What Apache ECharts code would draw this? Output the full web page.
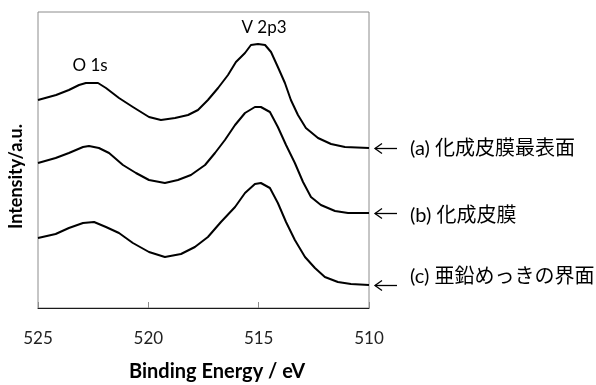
<!DOCTYPE html>
<html><head><meta charset="utf-8">
<script src="https://cdn.jsdelivr.net/npm/echarts@6/dist/echarts.min.js"></script>
<style>html,body{margin:0;padding:0;background:#fff}#c{width:596px;height:385px}</style>
</head><body><div id="c"></div>
<script>
// Binding energies (eV) and intensities (a.u.)
const energyA = [525.0,524.18,523.6,523.14,522.83,522.28,521.92,521.33,520.7,519.97,519.43,518.79,518.2,517.75,517.3,516.84,516.39,516.03,515.62,515.35,515.03,514.71,514.44,514.13,513.81,513.54,513.22,512.86,512.31,511.72,511.09,510.0];
const intensityA = [208,213,218,223,225,225,220,210,201,191,188,190,193,198,208,220,233,246,255,263,264,263,256,241,225,208,193,180,170,164,161,160];
const energyB = [525.0,524.2,523.6,522.96,522.69,522.24,521.78,521.15,520.56,519.97,519.25,518.66,518.07,517.43,516.98,516.53,516.07,515.62,515.17,514.9,514.49,514.13,513.76,513.36,512.99,512.63,512.18,511.54,510.95,510.0];
const intensityB = [145,150,155,161,162,160,155,143,135,128,125,128,133,143,155,168,183,195,201,201,196,181,163,145,126,111,103,97,95,95];
const energyC = [525.0,524.2,523.6,522.96,522.46,521.92,521.33,520.7,519.97,519.25,518.52,517.89,517.3,516.71,516.07,515.62,515.17,514.9,514.49,514.13,513.76,513.36,512.9,512.45,512.0,511.41,510.82,510.0];
const intensityC = [70,74,80,85,86,81,75,65,56,51,54,61,71,86,101,115,124,125,120,105,86,68,51,40,31,26,24,23];
const seriesNames = ['(a) 化成皮膜最表面','(b) 化成皮膜','(c) 亜鉛めっきの界面'];
const tickLabels = ['525','520','515','510'];
const peakNames = ['O 1s','V 2p3'];
const peakPos = [[522.64,242],[514.76,280]];
const xTitle = 'Binding Energy / eV';
const yTitle = 'Intensity/a.u.';

const FONT = "Lato, 'Noto Sans CJK JP', sans-serif";
const zip = (xs, ys) => xs.map((x, i) => [x, ys[i]]);
const curves = [zip(energyA, intensityA), zip(energyB, intensityB), zip(energyC, intensityC)];

const chart = echarts.init(document.getElementById('c'), null, {renderer: 'canvas'});
chart.setOption({
  animation: false,
  backgroundColor: '#fff',
  grid: {left: 38, right: 227, top: 12, bottom: 77, show: true, borderColor: '#8c8c8c', borderWidth: 1},
  xAxis: {
    type: 'value', min: 510, max: 525, interval: 5, inverse: true,
    axisLine: {show: true, lineStyle: {color: '#1a1a1a', width: 1}},
    axisTick: {show: true, inside: true, length: 6, lineStyle: {color: '#8c8c8c'}},
    splitLine: {show: false},
    axisLabel: {margin: 22, color: '#222', fontSize: 17, fontFamily: FONT,
      formatter: v => tickLabels[[525,520,515,510].indexOf(v)] ?? ''}
  },
  yAxis: {type: 'value', min: 0, max: 296, show: false},
  series: curves.map((d, i) => ({
    name: seriesNames[i], type: 'line', data: d, symbol: 'none', smooth: false,
    lineStyle: {color: '#000', width: 2, join: 'round'}
  }))
});

const g = [];
// axis titles
g.push({type: 'text', left: 129, top: 362, style: {text: xTitle, font: "bold 20px " + FONT, fill: '#000'}});
g.push({type: 'text', x: 7, y: 229, rotation: Math.PI / 2, style: {text: yTitle, font: "bold 18px " + FONT, fill: '#000', textVerticalAlign: 'top'}});
// peak labels
peakNames.forEach((t, i) => {
  const p = chart.convertToPixel({gridIndex: 0}, peakPos[i]);
  g.push({type: 'text', x: p[0], y: p[1], style: {text: t, font: "17px " + FONT, fill: '#000', textAlign: 'center', textVerticalAlign: 'middle'}});
});
// right-side labels with arrows
const textDy = [0, 2, -9];
curves.forEach((d, i) => {
  const last = d[d.length - 1];
  const p = chart.convertToPixel({gridIndex: 0}, last);
  const y = Math.round(p[1]) + 0.5;
  const x0 = p[0] + 6, x1 = p[0] + 28;
  g.push({type: 'polyline', shape: {points: [[x0, y], [x1, y]]}, style: {stroke: '#000', lineWidth: 1.3}});
  g.push({type: 'polyline', shape: {points: [[x0 + 7, y - 5], [x0, y], [x0 + 7, y + 5]]}, style: {stroke: '#000', lineWidth: 1.3, fill: null}});
  g.push({type: 'text', x: p[0] + 41, y: y + textDy[i], style: {text: seriesNames[i], font: "20px " + FONT, fill: '#000', textVerticalAlign: 'middle'}});
});
chart.setOption({graphic: g});
</script></body></html>
